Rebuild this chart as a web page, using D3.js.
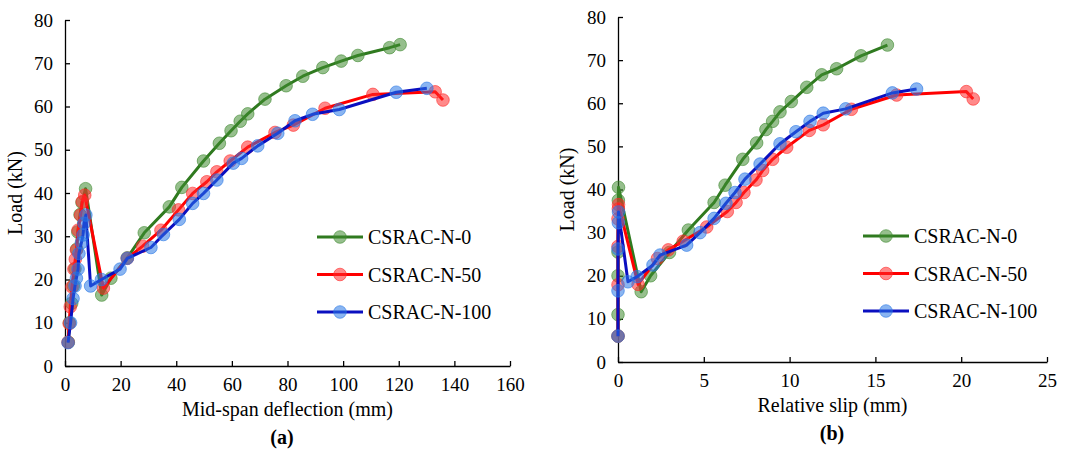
<!DOCTYPE html>
<html lang="en">
<head>
<meta charset="UTF-8">
<title>Load curves</title>
<script src="https://d3js.org/d3.v7.min.js"></script>
<style>
  body { margin: 0; background: #fff; }
  text { font-family: "Liberation Serif", "Times New Roman", serif; fill: #000; }
  .tick text { font-size: 19px; font-family: "Liberation Serif", "Times New Roman", serif; }
  .axis path, .axis line { stroke: #000; stroke-width: 1.3; }
</style>
</head>
<body>
<svg width="1073" height="451"></svg>
<script>
// series names
var seriesNames = ["CSRAC-N-0", "CSRAC-N-50", "CSRAC-N-100"];

// (a) mid-span deflection (mm) vs load (kN)
var defN0 = [[1.2,5.5],[1.6,10],[2.4,14.5],[3,18.5],[3.6,22.5],[4.2,27],[4.6,31],[5.4,35],[6.1,37.8],[7.4,41],
  [13.2,16.4],[16.5,20.3],[22.4,25],[28.5,30.8],[37.5,36.8],[42,41.3],[49.8,47.4],[55.5,51.5],[59.7,54.4],
  [63,56.6],[65.7,58.3],[71.9,61.7],[79.5,64.8],[85.5,67],[92.7,69],[99.3,70.5],[105.3,71.8],[116.7,73.6],[120.5,74.3]];
var defN50 = [[1.1,5.5],[1.5,9.8],[1.9,13.7],[2.5,18.3],[3.2,22.4],[3.7,24.7],[4.1,26.8],[4.7,31.4],[5.6,34.9],
  [6.2,38],[7.1,39.5],[13.8,18],[22.4,24.9],[27.9,27.7],[34.5,31.4],[40.8,36.1],[45.9,39.9],[51,42.6],[54.6,44.9],
  [59.4,47.4],[65.7,50.6],[75.5,54],[82.1,55.7],[93.5,59.6],[110.7,62.8],[133.1,63.4],[135.9,61.5]];
var defN100 = [[1.1,5.4],[2,10],[2.9,15.6],[3.6,18.5],[4.1,20.3],[4.7,22.4],[5,26],[5.9,28.5],[6.5,30.3],
  [6.8,33],[7.5,34.9],[9.2,18.5],[13.1,20],[19.8,22.4],[22.4,24.9],[30.9,27.4],[35.4,30.4],[41.1,33.9],
  [45.9,37.6],[49.8,39.9],[54.6,43],[60.5,46.9],[63.5,48],[69.3,50.9],[76.5,53.8],[82.7,56.7],[89,58.2],
  [98.6,59.3],[119.1,63.3],[130.1,64.2]];

// (b) relative slip (mm) vs load (kN)
var slipN0 = [[0,6],[0,11],[0,20],[0,25.5],[0.02,37.5],[0.03,40.5],[1.35,16.3],[1.9,20],[3,25.4],[4.1,30.6],
  [5.6,37],[6.24,41],[7.27,47],[8.08,50.8],[8.62,53.9],[9.01,55.8],[9.44,58],[10.1,60.4],[11,63.7],
  [11.87,66.6],[12.74,68],[14.16,71],[15.7,73.5]];
var slipN50 = [[0,6],[0,17.9],[0,26.8],[0,33.2],[0.02,35.5],[0.03,36.5],[1.17,18],[2.3,24],[2.93,26],[3.8,28],
  [5.17,31.3],[6.37,34.9],[6.88,37],[7.34,39.3],[8.04,42.2],[8.43,44.4],[9.01,47],[9.83,49.8],[11.15,53.7],
  [11.96,55],[13.6,58.6],[16.24,61.9],[20.3,62.7],[20.7,61]];
var slipN100 = [[0,6],[0,16.5],[0,26.2],[0.02,32.3],[0.03,34.8],[0.58,18.6],[1.12,19.8],[2.04,22.5],[2.45,24.8],
  [4,27.1],[4.78,30],[5.6,33.3],[6.29,36.8],[6.82,39.3],[7.4,42.4],[8.28,45.9],[9.44,50.6],[10.37,53.4],
  [11.19,55.8],[11.96,57.7],[13.27,58.7],[15.99,62.4],[17.4,63.3]];

var defTicks = [0,20,40,60,80,100,120,140,160];
var slipTicks = [0,5,10,15,20,25];
var loadTicks = [0,10,20,30,40,50,60,70,80];

var lineColors = ["#2f7a1f", "#ff0000", "#0a0fc0"];
var dotColors = ["#3f8a30", "#ff2a2a", "#2a78e6"];

var svg = d3.select("svg");

function drawPanel(opt) {
  var x = d3.scaleLinear().domain(opt.xDomain).range([opt.left, opt.right]);
  var y = d3.scaleLinear().domain([0, 80]).range([opt.bottom, opt.top]);
  var g = svg.append("g");

  g.append("g").attr("class", "axis")
    .attr("transform", "translate(0," + opt.bottom + ")")
    .call(d3.axisBottom(x).tickValues(opt.xTicks).tickSizeInner(-5).tickSizeOuter(0).tickPadding(12))
    .call(a => a.selectAll(".tick text").attr("dy", "0.71em"));
  g.append("g").attr("class", "axis")
    .attr("transform", "translate(" + opt.left + ",0)")
    .call(d3.axisLeft(y).tickValues(loadTicks).tickSizeInner(-5).tickSizeOuter(0).tickPadding(12));

  var line = d3.line().x(d => x(d[0])).y(d => y(d[1]));
  opt.data.forEach(function(s, i) {
    g.append("path").datum(s)
      .attr("d", line)
      .attr("fill", "none")
      .attr("stroke", lineColors[i])
      .attr("stroke-width", 3)
      .attr("stroke-linejoin", "round");
    g.selectAll(null).data(s).enter().append("circle")
      .attr("cx", d => x(d[0]))
      .attr("cy", d => y(d[1]))
      .attr("r", 6.3)
      .attr("fill", dotColors[i])
      .attr("fill-opacity", 0.55)
      .attr("stroke", dotColors[i])
      .attr("stroke-opacity", 0.6)
      .attr("stroke-width", 1);
  });

  // axis titles
  g.append("text")
    .attr("x", (opt.left + opt.right) / 2)
    .attr("y", opt.bottom + 50)
    .attr("text-anchor", "middle")
    .style("font-size", "20px")
    .text(opt.xTitle);
  g.append("text")
    .attr("transform", "translate(" + opt.yTitleX + "," + (opt.top + opt.bottom) / 2 + ") rotate(-90)")
    .attr("text-anchor", "middle")
    .style("font-size", "20px")
    .text("Load (kN)");
  g.append("text")
    .attr("x", opt.capX)
    .attr("y", opt.bottom + 78)
    .attr("text-anchor", "middle")
    .style("font-size", "20px")
    .style("font-weight", "bold")
    .text(opt.caption);

  // legend
  seriesNames.forEach(function(name, i) {
    var ly = opt.legY + i * 37.5;
    g.append("line")
      .attr("x1", opt.legX).attr("x2", opt.legX + 46)
      .attr("y1", ly).attr("y2", ly)
      .attr("stroke", lineColors[i]).attr("stroke-width", 3);
    g.append("circle")
      .attr("cx", opt.legX + 23).attr("cy", ly).attr("r", 6.3)
      .attr("fill", dotColors[i]).attr("fill-opacity", 0.55)
      .attr("stroke", dotColors[i]).attr("stroke-opacity", 0.6);
    g.append("text")
      .attr("x", opt.legX + 51).attr("y", ly)
      .attr("dy", "0.35em")
      .style("font-size", "20px")
      .text(name);
  });
}

drawPanel({
  data: [defN0, defN50, defN100],
  xDomain: [0, 160], xTicks: defTicks,
  left: 65, right: 510, top: 20, bottom: 366,
  xTitle: "Mid-span deflection (mm)", caption: "(a)", capX: 282, yTitleX: 22,
  legX: 317, legY: 237
});

drawPanel({
  data: [slipN0, slipN50, slipN100],
  xDomain: [0, 25], xTicks: slipTicks,
  left: 618, right: 1047, top: 17, bottom: 362,
  xTitle: "Relative slip (mm)", caption: "(b)", capX: 832, yTitleX: 574,
  legX: 863, legY: 236
});
</script>
</body>
</html>
